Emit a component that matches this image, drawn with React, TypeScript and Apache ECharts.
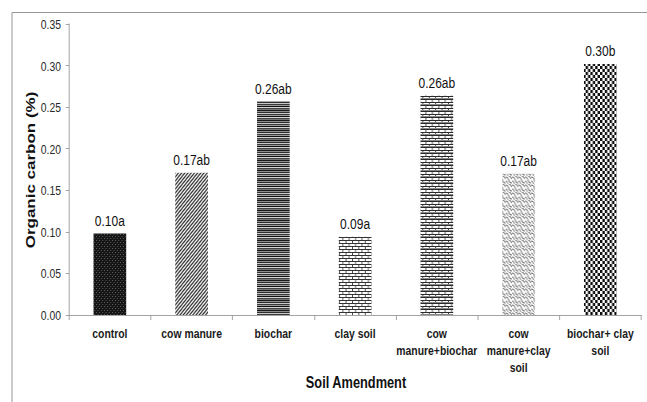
import React, { useEffect, useRef } from "react";
import * as echarts from "echarts";

// Soil amendment treatments and their organic carbon content (%)
const categories = [
  "control",
  "cow manure",
  "biochar",
  "clay soil",
  "cow\nmanure+biochar",
  "cow\nmanure+clay\nsoil",
  "biochar+ clay\nsoil",
];
const organicCarbon = [0.098, 0.171, 0.257, 0.094, 0.264, 0.17, 0.302];
const significance = ["a", "ab", "ab", "a", "ab", "ab", "b"];
const yTicks = { min: 0, max: 0.35, interval: 0.05 };

// The chart is laid out wider and squeezed horizontally, giving condensed type.
const SQUEEZE = 0.8;
const VIEW_W = 647;
const VIEW_H = 402;
const CHART_W = VIEW_W / SQUEEZE;
const sx = (px: number) => px / SQUEEZE;

const FONT = "'Liberation Sans', Arial, sans-serif";

type Painter = (ctx: CanvasRenderingContext2D, w: number, h: number) => void;

function tile(w: number, h: number, paint: Painter) {
  const c = document.createElement("canvas");
  c.width = w;
  c.height = h;
  const ctx = c.getContext("2d")!;
  ctx.fillStyle = "#fff";
  ctx.fillRect(0, 0, w, h);
  paint(ctx, w, h);
  return { image: c, repeat: "repeat", imageWidth: w, imageHeight: h } as any;
}

function makePatterns() {
  // fine dark mesh
  const mesh = tile(4, 4, (ctx) => {
    ctx.fillStyle = "#151515";
    ctx.fillRect(0, 0, 4, 4);
    ctx.fillStyle = "#6a6a6a";
    ctx.fillRect(0, 0, 1, 1);
    ctx.fillRect(2, 2, 1, 1);
  });
  // forward diagonal hatching
  const diag = tile(4, 4, (ctx) => {
    ctx.strokeStyle = "#2a2a2a";
    ctx.lineWidth = 1.4;
    ctx.beginPath();
    ctx.moveTo(-1, 5);
    ctx.lineTo(5, -1);
    ctx.moveTo(-1, 1);
    ctx.lineTo(1, -1);
    ctx.moveTo(3, 5);
    ctx.lineTo(5, 3);
    ctx.stroke();
  });
  // horizontal stripes of mixed weight
  const stripes = tile(2, 10, (ctx) => {
    const rows = ["#1a1a1a", "#8c8c8c", "#2e2e2e", "#c8c8c8", "#3a3a3a", "#9a9a9a", "#111", "#d5d5d5", "#444", "#777"];
    rows.forEach((c, i) => {
      ctx.fillStyle = c;
      ctx.fillRect(0, i, 2, 1);
    });
  });
  // horizontal brick
  const brick = tile(8, 6, (ctx) => {
    ctx.fillStyle = "#333";
    ctx.fillRect(0, 0, 8, 1);
    ctx.fillRect(0, 3, 8, 1);
    ctx.fillRect(0, 0, 1, 3);
    ctx.fillRect(4, 3, 1, 3);
  });
  const brickDense = tile(8, 6, (ctx) => {
    ctx.fillStyle = "#2a2a2a";
    ctx.fillRect(0, 0, 8, 1);
    ctx.fillRect(0, 3, 8, 1);
    ctx.fillRect(0, 0, 1, 3);
    ctx.fillRect(4, 3, 1, 3);
    ctx.fillStyle = "#888";
    ctx.fillRect(0, 2, 8, 1);
  });
  // light wavy diagonal
  const wave = tile(8, 8, (ctx) => {
    ctx.strokeStyle = "#7a7a7a";
    ctx.lineWidth = 1.1;
    ctx.beginPath();
    ctx.moveTo(0, 1);
    ctx.quadraticCurveTo(3, 1, 4, 4);
    ctx.quadraticCurveTo(5, 7, 8, 7);
    ctx.moveTo(4, 0);
    ctx.quadraticCurveTo(6, 0, 8, 3);
    ctx.moveTo(0, 5);
    ctx.quadraticCurveTo(2, 5, 3, 8);
    ctx.stroke();
  });
  // checkerboard
  const checker = tile(6, 6, (ctx) => {
    ctx.fillStyle = "#0d0d0d";
    ctx.fillRect(0, 0, 3, 3);
    ctx.fillRect(3, 3, 3, 3);
  });
  return [mesh, diag, stripes, brick, brickDense, wave, checker];
}

export default function App() {
  const ref = useRef<HTMLDivElement>(null);

  useEffect(() => {
    document.body.style.margin = "0";
    document.body.style.overflow = "hidden";
    document.documentElement.style.overflow = "hidden";
    const chart = echarts.init(ref.current!, undefined, { renderer: "svg" });
    const patterns = makePatterns();

    chart.setOption({
      animation: false,
      backgroundColor: "#fff",
      grid: { left: sx(69), right: sx(6), top: 24, bottom: 87 },
      graphic: [
        {
          type: "rect",
          left: sx(10),
          top: 10,
          shape: { x: 0, y: 0, width: 900, height: 500 },
          style: { fill: "none", stroke: "#8a8a8a", lineWidth: 1 },
          silent: true,
        },
        {
          type: "text",
          x: sx(356),
          y: 382,
          style: {
            text: "Soil Amendment",
            font: `bold 16px ${FONT}`,
            fill: "#111",
            align: "center",
            verticalAlign: "middle",
          },
        },
        {
          type: "text",
          x: sx(30),
          y: 170,
          rotation: Math.PI / 2,
          style: {
            text: "Organic carbon (%)",
            font: `bold 17px ${FONT}`,
            fill: "#111",
            align: "center",
            verticalAlign: "middle",
          },
        },
      ],
      xAxis: {
        type: "category",
        data: categories,
        axisLine: { lineStyle: { color: "#9a9a9a", width: 1 } },
        axisTick: { show: true, length: 5, alignWithLabel: false, lineStyle: { color: "#9a9a9a" } },
        axisLabel: {
          interval: 0,
          margin: 10,
          color: "#1a1a1a",
          fontFamily: FONT,
          fontWeight: "bold",
          fontSize: 13,
          lineHeight: 17,
        },
      },
      yAxis: {
        type: "value",
        min: yTicks.min,
        max: yTicks.max,
        interval: yTicks.interval,
        splitLine: { show: false },
        axisLine: { show: true, lineStyle: { color: "#9a9a9a", width: 1 } },
        axisTick: { show: true, length: 4, lineStyle: { color: "#9a9a9a" } },
        axisLabel: {
          margin: sx(8),
          color: "#2a2a2a",
          fontFamily: FONT,
          fontSize: 13,
          formatter: (v: number) => v.toFixed(2),
        },
      },
      series: [
        {
          type: "bar",
          barWidth: "40%",
          data: organicCarbon.map((v, i) => ({
            value: v,
            itemStyle: { color: patterns[i] },
            label: { formatter: `${v.toFixed(2)}${significance[i]}` },
          })),
          label: {
            show: true,
            position: "top",
            distance: 5,
            color: "#111",
            fontFamily: FONT,
            fontSize: 15,
          },
        },
      ],
    });

    return () => chart.dispose();
  }, []);

  return (
    <div
      ref={ref}
      style={{
        width: CHART_W,
        height: VIEW_H,
        transform: `scaleX(${SQUEEZE})`,
        transformOrigin: "0 0",
      }}
    />
  );
}
